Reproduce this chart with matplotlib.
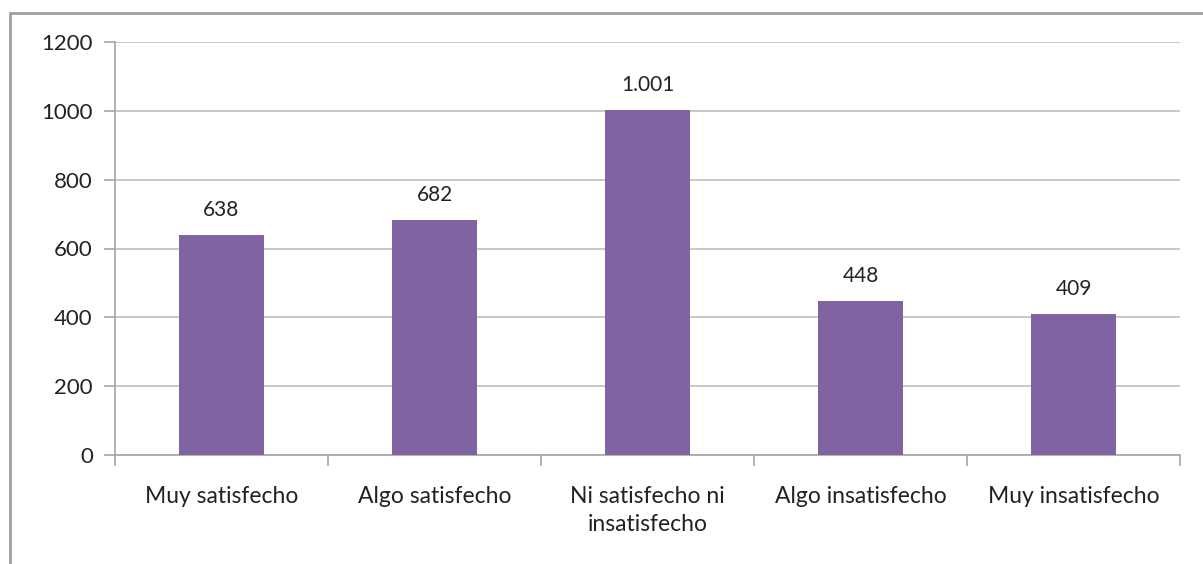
import matplotlib
matplotlib.use("Agg")
import matplotlib.pyplot as plt
from matplotlib.patches import Rectangle
import numpy as np

categories = ["Muy satisfecho", "Algo satisfecho", "Ni satisfecho ni\ninsatisfecho",
              "Algo insatisfecho", "Muy insatisfecho"]
values = [638, 682, 1001, 448, 409]
value_labels = ["638", "682", "1.001", "448", "409"]
yticks = [0, 200, 400, 600, 800, 1000, 1200]

plt.rcParams['font.family'] = ['Lato', 'DejaVu Sans']

fig = plt.figure(figsize=(12.03, 5.64), dpi=100)
ax = fig.add_axes([115/1203, 1-455/564, (1180-115)/1203, (455-42)/564])

x = np.arange(len(categories))
ax.bar(x, values, width=0.4, color="#8064A2", zorder=3)
for xi, v, lab in zip(x, values, value_labels):
    ax.annotate(lab, (xi, v), xytext=(0, 11), textcoords="offset points",
                ha="center", va="bottom", fontsize=15, color="#222222")

ax.set_xlim(-0.5, len(categories) - 0.5)
ax.set_ylim(0, 1200)
ax.set_yticks(yticks)
ax.set_yticklabels([str(t) for t in yticks], fontsize=16, color="#222222")
ax.yaxis.grid(True, color="#BFBFBF", linewidth=1.2, zorder=0)
ax.set_axisbelow(True)

ax.set_xticks(x)
ax.set_xticklabels(categories, fontsize=16.5, color="#222222", linespacing=1.45)
ax.tick_params(axis='x', length=0, pad=22)
ax.set_xticks(np.arange(-0.5, len(categories)), minor=True)
ax.tick_params(axis='x', which='minor', length=8, color="#A6A6A6", width=1.2)
ax.tick_params(axis='y', length=8, color="#A6A6A6", width=1.2, pad=8)

for s in ["top", "right"]:
    ax.spines[s].set_visible(False)
for s in ["left", "bottom"]:
    ax.spines[s].set_color("#A6A6A6")
    ax.spines[s].set_linewidth(1.2)

fig.patches.append(Rectangle((10/1203, -0.1), 1.2, 1 - 13/564 + 0.1,
                             transform=fig.transFigure, fill=False,
                             edgecolor="#A0A0A0", linewidth=2, clip_on=False))

fig.savefig("out.png", dpi=100)
